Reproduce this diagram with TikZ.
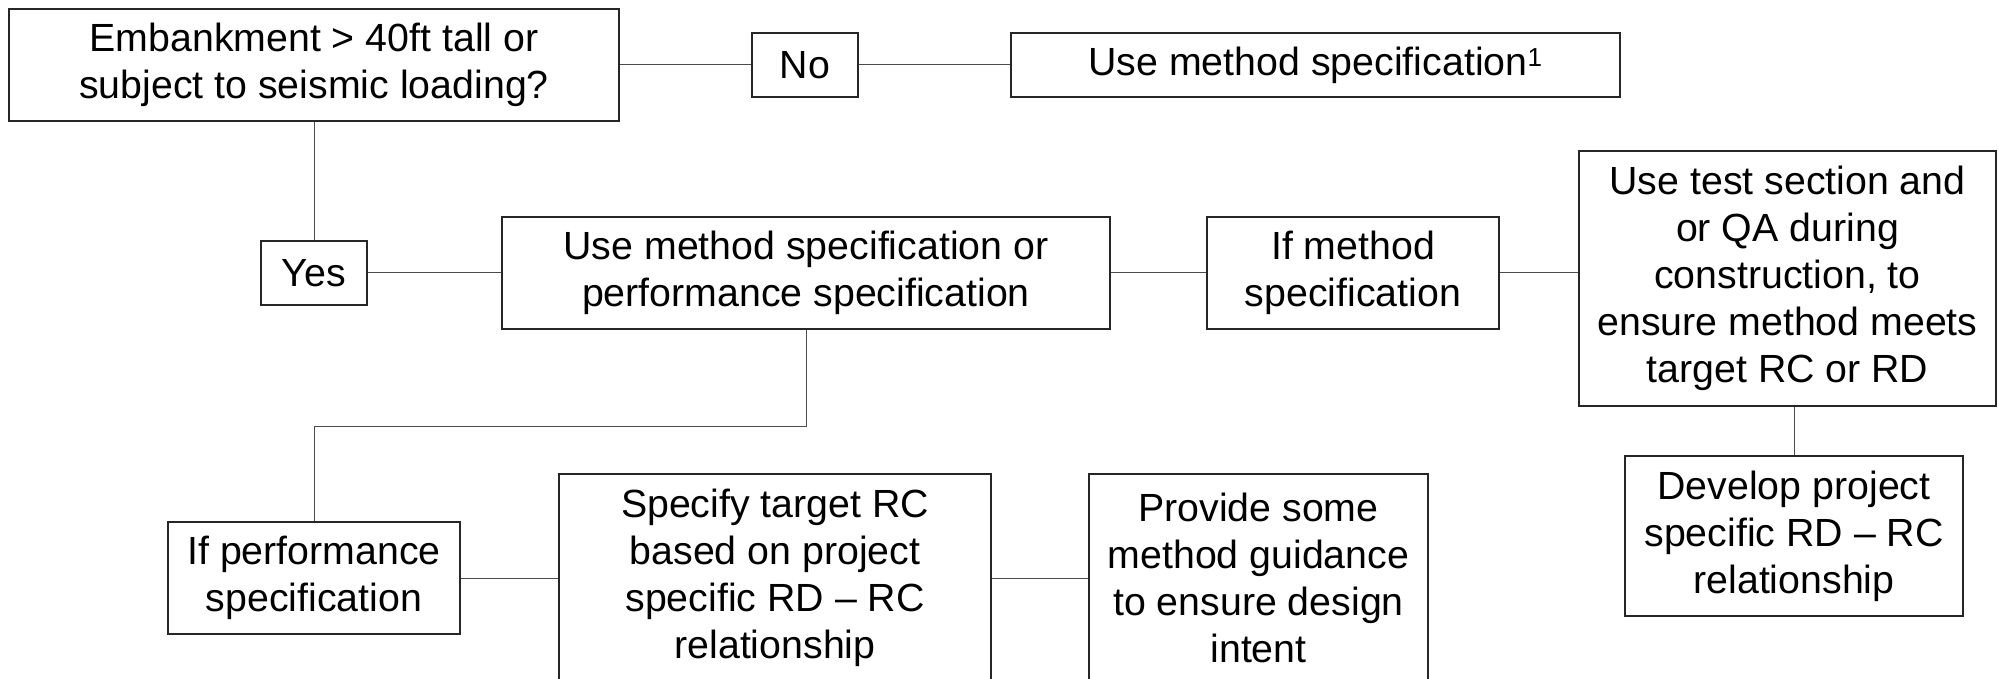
\documentclass[tikz,border=0pt]{standalone}
\usepackage{fontspec}
\setmainfont{Liberation Sans}
\begin{document}
\begin{tikzpicture}[x=1pt,y=-1pt,
  box/.style={draw=black!85,line width=1.3pt,inner sep=0pt,align=center,
    font=\fontsize{39.3}{47}\selectfont},
  link/.style={draw=black!70,line width=1pt}]
\useasboundingbox (0,0) rectangle (1998,679);
\node[box,minimum width=610,minimum height=112] (emb) at (314,65) {Embankment > 40ft tall or\\subject to seismic loading?};
\node[box,minimum width=106,minimum height=64] (no) at (805,65) {No};
\node[box,minimum width=609,minimum height=64] (ums) at (1315.5,65) {Use method specification\textsuperscript{\fontsize{26}{26}\selectfont 1}};
\node[box,minimum width=106,minimum height=64] (yes) at (314,273) {Yes};
\node[box,minimum width=608,minimum height=112] (umop) at (806,273) {Use method specification or\\performance specification};
\node[box,minimum width=292,minimum height=112] (ifm) at (1353,273) {If method\\specification};
\node[box,minimum width=417,minimum height=255] (test) at (1787.5,278.5) {Use test section and\\or QA during\\construction, to\\ensure method meets\\target RC or RD};
\node[box,minimum width=338,minimum height=160] (dev) at (1794,536) {Develop project\\specific RD -- RC\\relationship};
\node[box,minimum width=292,minimum height=112] (ifp) at (314,578) {If performance\\specification};
\node[box,minimum width=432,minimum height=208] (spec) at (775,578) {Specify target RC\\based on project\\specific RD -- RC\\relationship};
\node[box,minimum width=339,minimum height=208] (prov) at (1258.5,578) {Provide some\\method guidance\\to ensure design\\intent};
\draw[link] (emb.east) -- (no.west);
\draw[link] (no.east) -- (ums.west);
\draw[link] (emb.south) -- (yes.north);
\draw[link] (yes.east) -- (umop.west);
\draw[link] (umop.east) -- (ifm.west);
\draw[link] (ifm.east) -- (ifm.east -| test.west);
\draw[link] (dev.north |- test.south) -- (dev.north);
\draw[link] (umop.south) -- ++(0,97) -| (ifp.north);
\draw[link] (ifp.east) -- (spec.west);
\draw[link] (spec.east) -- (prov.west);
\end{tikzpicture}
\end{document}
